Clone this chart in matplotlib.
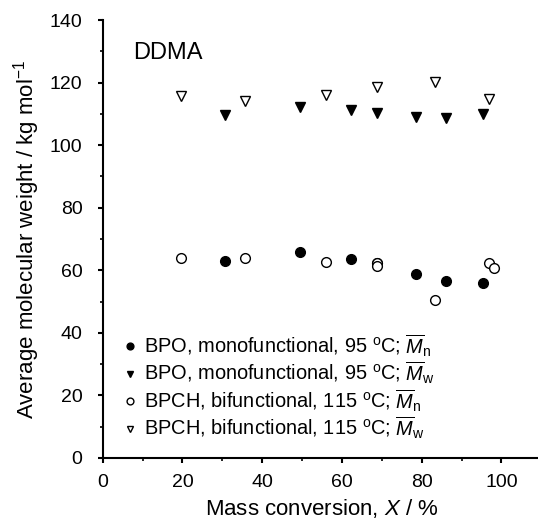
import numpy as np
import matplotlib
matplotlib.use('Agg')
import matplotlib.pyplot as plt
from matplotlib.ticker import MultipleLocator

plt.rcParams['font.family'] = ['Liberation Sans', 'DejaVu Sans']
plt.rcParams['mathtext.fontset'] = 'custom'
plt.rcParams['mathtext.rm'] = 'Liberation Sans'
plt.rcParams['mathtext.it'] = 'Liberation Sans:italic'

# BPO, monofunctional, 95 C
bpo_x = [30.7, 49.6, 62.4, 68.8, 78.7, 86.0, 95.3]
bpo_mn = [63.1, 65.8, 63.7, 62.4, 58.9, 56.6, 56.0]
bpo_mw = [109.7, 112.1, 111.2, 110.3, 109.0, 108.7, 110.0]

# BPCH, bifunctional, 115 C
bpch_x_n = [19.6, 35.7, 56.1, 68.8, 68.9, 83.4, 96.9, 98.2]
bpch_mn = [64.0, 64.0, 62.5, 62.4, 61.5, 50.5, 62.2, 60.8]
bpch_x_w = [19.6, 35.7, 56.1, 68.9, 83.4, 96.9]
bpch_mw = [115.6, 114.0, 115.9, 118.6, 120.3, 114.9]

labels = [
    r'BPO, monofunctional, 95 $^\mathrm{o}$C; $\overline{M}_\mathrm{n}$',
    r'BPO, monofunctional, 95 $^\mathrm{o}$C; $\overline{M}_\mathrm{w}$',
    r'BPCH, bifunctional, 115 $^\mathrm{o}$C; $\overline{M}_\mathrm{n}$',
    r'BPCH, bifunctional, 115 $^\mathrm{o}$C; $\overline{M}_\mathrm{w}$',
]

fig = plt.figure(figsize=(5.38, 5.28), dpi=100)
ax = fig.add_axes([0.191, 0.1326, 0.815, 0.8295])

ms = 7
ax.plot(bpo_x, bpo_mn, 'o', ms=ms, mfc='black', mec='black', label=labels[0])
ax.plot(bpo_x, bpo_mw, 'v', ms=ms, mfc='black', mec='black', label=labels[1])
ax.plot(bpch_x_n, bpch_mn, 'o', ms=ms, mfc='white', mec='black', mew=1.0, label=labels[2])
ax.plot(bpch_x_w, bpch_mw, 'v', ms=ms, mfc='white', mec='black', mew=1.0, label=labels[3])

ax.set_xlim(0, 110)
ax.set_ylim(0, 140)
ax.xaxis.set_major_locator(MultipleLocator(20))
ax.xaxis.set_minor_locator(MultipleLocator(10))
ax.yaxis.set_major_locator(MultipleLocator(20))
ax.yaxis.set_minor_locator(MultipleLocator(10))
ax.set_xticks([0, 20, 40, 60, 80, 100])

for s in ['top', 'right']:
    ax.spines[s].set_visible(False)
for s in ['left', 'bottom']:
    ax.spines[s].set_linewidth(1.5)
ax.tick_params(which='major', direction='out', length=3.5, width=1.5, labelsize=14)
ax.tick_params(axis='y', which='major', pad=11)
ax.tick_params(axis='x', which='major', pad=8)
ax.tick_params(which='minor', direction='out', length=2.2, width=1.2)

ax.set_xlabel(r'Mass conversion, $X$ / %', fontsize=16, labelpad=4)
ax.set_ylabel(r'Average molecular weight / kg mol$^{-1}$', fontsize=16, labelpad=6)

ax.text(7.6, 129.6, 'DDMA', fontsize=17, va='center', ha='left')

ax.legend(loc='upper left', frameon=False, fontsize=14.4, markerscale=0.7,
          handletextpad=0.05, handlelength=1.3, labelspacing=0.065,
          borderaxespad=0, bbox_to_anchor=(0.014, 0.305))

fig.savefig('out.png', dpi=100)
